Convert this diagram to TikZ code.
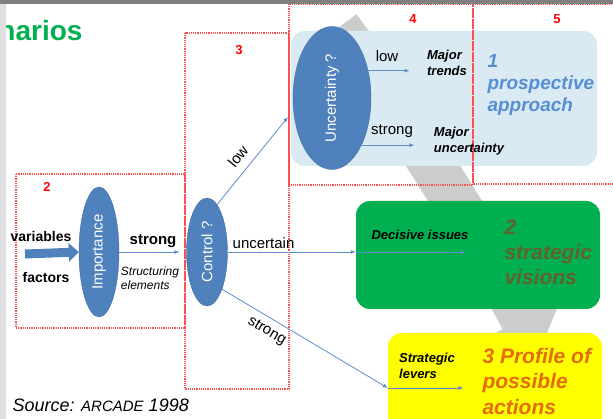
\documentclass[tikz,border=0pt]{standalone}
\usepackage{fontspec}
\setmainfont{Liberation Sans}
\usetikzlibrary{arrows.meta,shapes.geometric}
\tikzset{>={Latex[width=4pt,length=5pt]}}

\definecolor{ellblue}{RGB}{79,129,189}
\definecolor{lineblue}{RGB}{95,140,205}
\definecolor{paleblue}{RGB}{218,234,242}
\definecolor{boxgreen}{RGB}{0,176,80}
\definecolor{boxyellow}{RGB}{255,255,0}
\definecolor{dotred}{RGB}{250,80,80}
\definecolor{prospblue}{RGB}{85,142,213}
\definecolor{visbrown}{RGB}{98,98,45}
\definecolor{proforange}{RGB}{228,108,10}

\tikzset{
  ell/.style={ellipse, fill=ellblue, draw=ellblue!85!black, text=white, inner sep=0pt,
    font=\fontsize{15}{18}\selectfont},
  flow/.style={->, draw=lineblue, line width=0.8pt},
  fat/.style={line width=9pt, draw=ellblue, -{Triangle[length=10pt,width=18pt]}},
  zone/.style={draw=dotred, densely dotted, line width=1.2pt},
  zonenum/.style={text=red, font=\bfseries\fontsize{13}{15}\selectfont},
  lbl/.style={font=\fontsize{15}{18}\selectfont},
  blbl/.style={font=\bfseries\fontsize{14}{17}\selectfont},
  note/.style={font=\bfseries\itshape\fontsize{13}{16}\selectfont, align=left},
  big/.style={font=\bfseries\itshape\fontsize{21}{25}\selectfont, align=left, anchor=west},
  panel/.style={rounded corners=14pt}
}

\begin{document}
\begin{tikzpicture}[x=1pt, y=-1pt]

  \clip (0,0) rectangle (613,419);

  %% background curved arrow
  \draw[line width=46pt, draw=black!20, -{Triangle[length=36pt,width=86pt]}]
    (338,28) .. controls (400,110) and (470,220) .. (540,350);

  %% result panels
  \node[panel, fill=paleblue, minimum width=306, minimum height=135] (prosp) at (444,98.5) {};
  \node[panel, fill=boxgreen, minimum width=244, minimum height=108] (vis) at (478,255) {};
  \node[panel, fill=boxyellow, minimum width=214, minimum height=110] (prof) at (495,388) {};

  %% dotted zones
  \draw[zone] (16,174) rectangle (185,328);   % 2
  \draw[zone] (185,33) rectangle (289,389);   % 3
  \draw[zone] (289,4) rectangle (473,185);    % 4
  \draw[zone] (473,4) rectangle (620,184);    % 5
  \node[zonenum] (z2) at (47,187) {2};
  \node[zonenum] (z3) at (239,50) {3};
  \node[zonenum] (z4) at (413,19) {4};
  \node[zonenum] (z5) at (557,19) {5};

  %% questions
  \node[ell, minimum width=40, minimum height=130] (imp) at (99,252) {\rotatebox{90}{Importance}};
  \node[ell, minimum width=41, minimum height=108] (ctrl) at (207,252) {\rotatebox{90}{Control ?}};
  \node[ell, minimum width=78, minimum height=143] (unc) at (332,98) {\rotatebox{90}{Uncertainty ?}};

  %% inputs
  \node[blbl] (var) at (41,236) {variables};
  \node[blbl] (fac) at (46,277) {factors};
  \coordinate (feed) at (25,254);
  \draw[fat] (feed) -- (imp.west);

  %% imp -> ctrl
  \draw[flow, shorten >=7pt] (imp.east) -- (ctrl.west);
  \node[font=\bfseries\fontsize{15}{18}\selectfont] (impstrong) at (153,241) {strong};
  \node[font=\itshape\fontsize{12}{14.5}\selectfont, align=left] (struct) at (150,278) {Structuring\\elements};

  %% ctrl -> panels
  \coordinate (lowtip) at (288,117);
  \draw[flow] (ctrl.78) -- node[lbl, sloped, above=5pt, pos=0.45] (clow) {low} (lowtip);
  \draw[flow] (ctrl.east) -- node[lbl, above, pos=0.28] (cunc) {uncertain} (ctrl.east -| vis.west);
  \draw[flow] (ctrl.-68) -- node[lbl, sloped, below=3pt, pos=0.31] (cstrong) {strong} (prof.west);

  %% uncertainty panel
  \node[note] (trends) at (447,63) {Major\\trends};
  \node[note] (maj) at (469,141) {Major\\uncertainty};
  \node[lbl] (ulow) at (387,56) {low};
  \node[lbl] (ustrong) at (392,131) {strong};
  \draw[flow] (unc.37) -- ([xshift=-14pt]trends.west |- unc.37);
  \draw[flow] (unc.-58) -- ([xshift=-16pt]maj.west |- unc.-58);
  \node[big, text=prospblue, font=\bfseries\itshape\fontsize{19}{22}\selectfont] (prospt) at (484,85) {1\\prospective\\approach};

  %% strategic visions
  \node[note] (issues) at (420,235) {Decisive issues};
  \draw[flow] (ctrl.east -| vis.west) -- ([xshift=-6pt]issues.east |- ctrl.east);
  \node[big, text=visbrown] (vist) at (501,252) {2\\strategic\\visions};

  %% possible actions
  \node[note] (levers) at (427,366) {Strategic\\levers};
  \draw[flow] (prof.west) -- ([xshift=5pt]levers.east |- prof.west);
  \node[big, text=proforange, font=\bfseries\itshape\fontsize{21}{25.5}\selectfont] (proft) at (479,381) {3 Profile of\\possible\\actions};

  %% title and source
  \node[anchor=base east, text=boxgreen, font=\bfseries\fontsize{28}{32}\selectfont] (ttl) at (86,41) {narios};
  \node[anchor=base west, font=\itshape\fontsize{18}{20}\selectfont] (src) at (9,411) {Source: {\fontsize{15}{17}\selectfont ARCADE} 1998};

  %% frame strips
  \fill[black!12] (0,0) rectangle (6,419);
  \fill[black!50] (0,0) rectangle (613,4.5);

\end{tikzpicture}
\end{document}
